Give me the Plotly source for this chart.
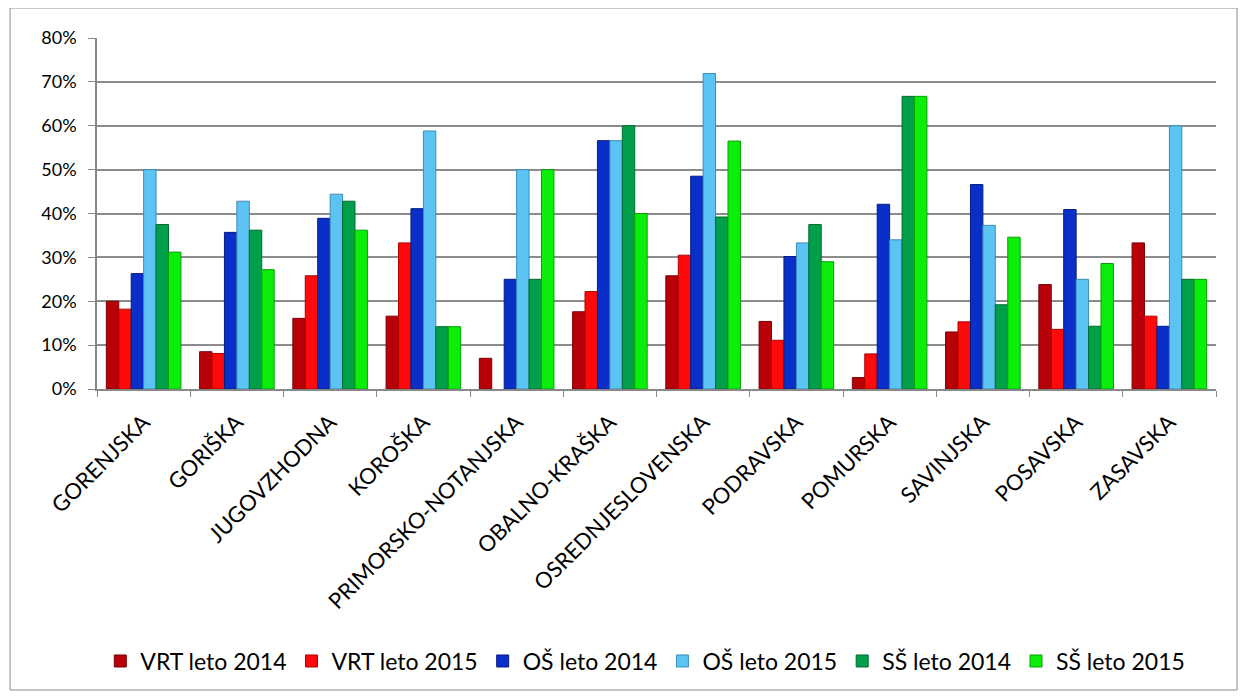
import plotly.graph_objects as go

categories = ["GORENJSKA", "GORIŠKA", "JUGOVZHODNA", "KOROŠKA", "PRIMORSKO-NOTANJSKA",
              "OBALNO-KRAŠKA", "OSREDNJESLOVENSKA", "PODRAVSKA", "POMURSKA",
              "SAVINJSKA", "POSAVSKA", "ZASAVSKA"]

vrt_2014 = [20.0, 8.5, 16.1, 16.6, 7.0, 17.6, 25.8, 15.4, 2.6, 13.0, 23.8, 33.3]
vrt_2015 = [18.2, 8.1, 25.8, 33.3, 0.0, 22.2, 30.5, 11.1, 8.0, 15.3, 13.6, 16.6]
os_2014 = [26.3, 35.7, 38.9, 41.1, 25.0, 56.6, 48.5, 30.2, 42.1, 46.6, 40.9, 14.3]
os_2015 = [50.0, 42.8, 44.4, 58.8, 50.0, 56.6, 71.9, 33.3, 34.0, 37.3, 25.0, 60.0]
ss_2014 = [37.5, 36.2, 42.8, 14.2, 25.0, 60.0, 39.2, 37.5, 66.7, 19.2, 14.3, 25.0]
ss_2015 = [31.2, 27.2, 36.2, 14.2, 50.0, 40.0, 56.5, 29.0, 66.7, 34.6, 28.6, 25.0]

series = [
    ("VRT leto 2014", vrt_2014, "#B80008", "#7A0005"),
    ("VRT leto 2015", vrt_2015, "#FF0A0A", "#B00000"),
    ("OŠ leto 2014", os_2014, "#0A2FC8", "#061C80"),
    ("OŠ leto 2015", os_2015, "#5CC4F2", "#3A8DB5"),
    ("SŠ leto 2014", ss_2014, "#00A04A", "#006A30"),
    ("SŠ leto 2015", ss_2015, "#0AEE0A", "#06A006"),
]

fig = go.Figure()
for name, vals, col, lc in series:
    fig.add_trace(go.Bar(
        x=categories, y=[v / 100 for v in vals], name=name,
        marker=dict(color=col,
                    line=dict(color=lc, width=[1 if v > 0 else 0 for v in vals])),
    ))

font_family = "Lato, Open Sans, Liberation Sans, Arial, sans-serif"

# page body has an 8px margin; plot area in page coords: x 97..1216, y 38..389
W, H = 1239, 688
fig.update_layout(
    width=W, height=H,
    barmode="group", bargap=0.2, bargroupgap=0.0,
    plot_bgcolor="white", paper_bgcolor="white",
    margin=dict(l=89, r=W - 1208, t=30, b=H - 381, pad=0),
    font=dict(family=font_family, size=19, color="black"),
    showlegend=True,
    legend=dict(orientation="h", x=0.49, xanchor="center", y=-0.775, yanchor="middle",
                font=dict(size=23), traceorder="normal", itemwidth=30),
    xaxis=dict(
        tickangle=-45, ticks="outside", tickson="boundaries", ticklen=6,
        tickcolor="#888888", showline=True, linecolor="#888888", linewidth=1.5,
        tickfont=dict(size=22), ticklabelstandoff=10,
    ),
    yaxis=dict(
        range=[0, 0.8], dtick=0.1, tickformat=".0%", showgrid=True,
        gridcolor="#8C8C8C", gridwidth=1.5, ticks="outside", ticklen=7,
        tickcolor="#888888", showline=True, linecolor="#888888", linewidth=1.5,
        zeroline=False, tickfont=dict(size=18), ticklabelstandoff=8,
    ),
    shapes=[dict(type="rect", xref="paper", yref="paper",
                 x0=-0.0777, x1=1.0188, y0=-0.8575, y1=1.0855,
                 line=dict(color="#8C8C8C", width=1), layer="below")],
)

fig.write_html("out.html")
